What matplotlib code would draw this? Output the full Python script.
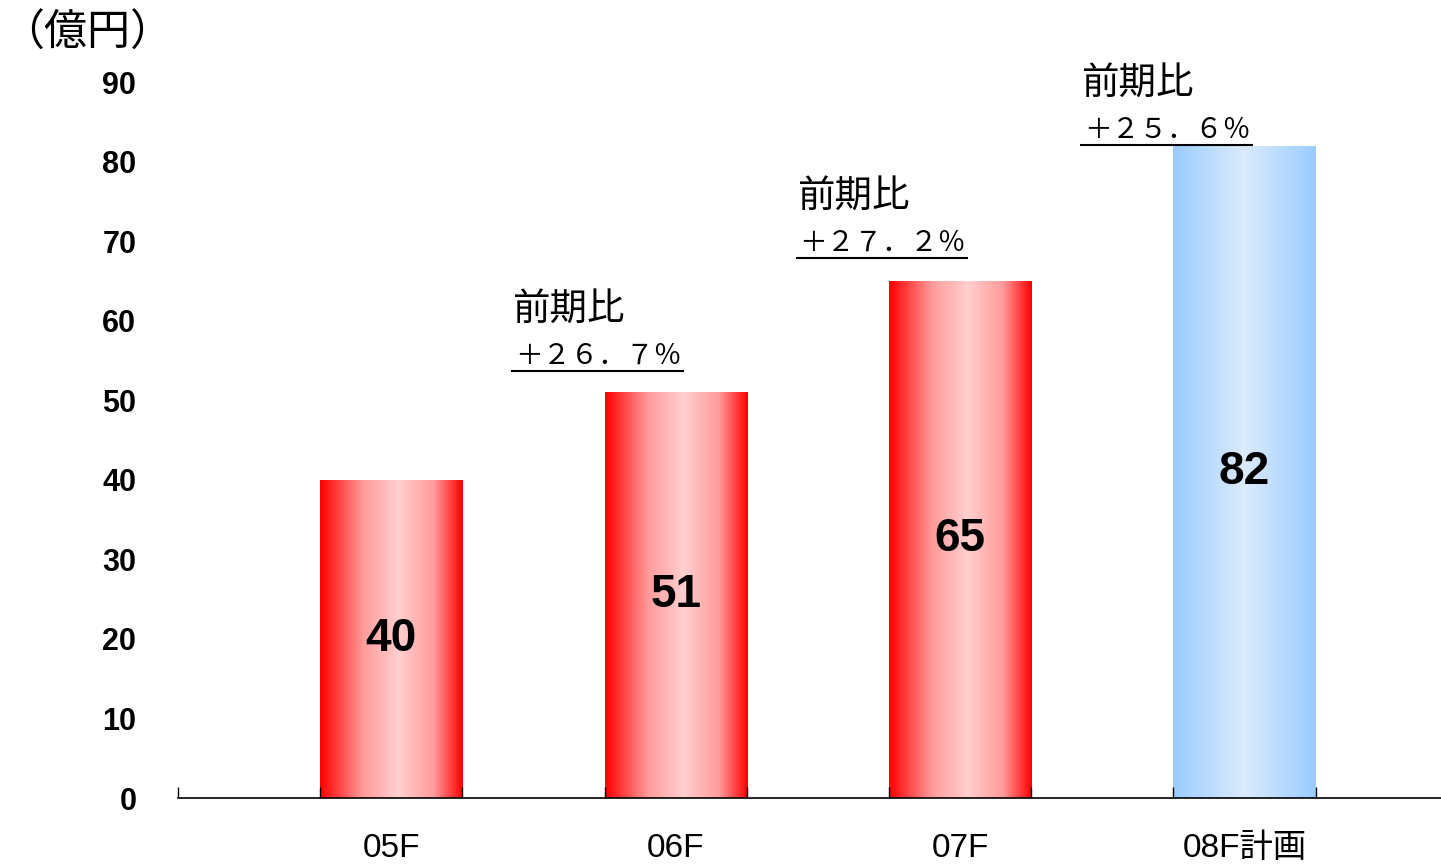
import numpy as np
import matplotlib
matplotlib.use('Agg')
import matplotlib.pyplot as plt
from matplotlib.colors import LinearSegmentedColormap

# ---- data ----
categories = ['05F', '06F', '07F', '08F計画']
values = [40, 51, 65, 82]
growth_labels = ['', '＋２６．７％', '＋２７．２％', '＋２５．６％']
is_plan = [False, False, False, True]
y_ticks = [0, 10, 20, 30, 40, 50, 60, 70, 80, 90]
unit_label = '（億円）'
growth_title = '前期比'

# ---- layout (not data) ----
ann_line_y = [None, 53.7, 67.9, 82.1]

plt.rcParams['font.family'] = ['Liberation Sans', 'Noto Sans CJK JP', 'DejaVu Sans']
JP = ['Noto Sans CJK JP', 'DejaVu Sans']

W, H = 1441, 865
fig = plt.figure(figsize=(W / 100, H / 100), dpi=100)
left_px, right_px, bottom_px, top_px = 178, 1441, 798, 82
ax = fig.add_axes([left_px / W, (H - bottom_px) / H,
                   (right_px - left_px) / W, (bottom_px - top_px) / H])
ax.set_axisbelow(False)

red_cmap = LinearSegmentedColormap.from_list(
    'redgrad', [(0, '#ff0000'), (0.3, '#ff9a9a'), (0.55, '#ffcfcf'), (0.8, '#ff9a9a'), (1, '#ff0000')])
blue_cmap = LinearSegmentedColormap.from_list(
    'bluegrad', [(0, '#99ccff'), (0.5, '#dcebfd'), (1, '#99ccff')])
grad = np.linspace(0, 1, 256).reshape(1, -1)

x_pos = [1.5 + 2 * i for i in range(len(categories))]
bars = ax.bar(x_pos, values, width=1.0, color='none', edgecolor='none', zorder=1)
for bar, plan in zip(bars, is_plan):
    x0 = bar.get_x()
    x1 = x0 + bar.get_width()
    h = bar.get_height()
    im = ax.imshow(grad, extent=(x0, x1, 0, h), aspect='auto',
                   cmap=blue_cmap if plan else red_cmap, zorder=1, interpolation='bilinear')
    im.set_clip_path(bar)

for xp, v in zip(x_pos, values):
    ax.text(xp, v / 2, f'{v}', ha='center', va='center', fontsize=33,
            fontweight='bold', color='black', zorder=4)

for i, (xp, lab) in enumerate(zip(x_pos, growth_labels)):
    if not lab:
        continue
    ly = ann_line_y[i]
    xl = xp - 1.15
    xr = xl + 1.2
    ax.plot([xl, xr], [ly, ly], color='black', lw=1.5, clip_on=False, zorder=5)
    ax.text(xl + 0.02, ly + 0.9, lab, ha='left', va='baseline', fontsize=20,
            family=JP, clip_on=False)
    ax.text(xl, ly + 7.6, growth_title, ha='left', va='center', fontsize=27,
            family=JP, clip_on=False)

ax.set_xlim(0, (right_px - left_px) / 142.2)
ax.set_ylim(0, 90)

edges = list(range(0, 2 * len(categories) + 1))
ax.set_xticks(edges)
ax.set_xticklabels([])
ax.tick_params(axis='x', which='major', direction='in', length=8, width=1, color='black')
ax.set_xticks(x_pos, minor=True)
ax.set_xticklabels(categories, minor=True, fontsize=24)
ax.tick_params(axis='x', which='minor', length=0, pad=25)

ax.set_yticks(y_ticks)
ax.set_yticklabels([str(t) for t in y_ticks], fontsize=22, fontweight='bold')
ax.tick_params(axis='y', length=0, pad=30)

for s in ['left', 'top', 'right']:
    ax.spines[s].set_visible(False)
ax.spines['bottom'].set_linewidth(1.2)
ax.spines['bottom'].set_zorder(6)

fig.text(1 / W, 1 - 34 / H, unit_label, ha='left', va='center', fontsize=31, family=JP)

fig.savefig('out.png', dpi=100)
